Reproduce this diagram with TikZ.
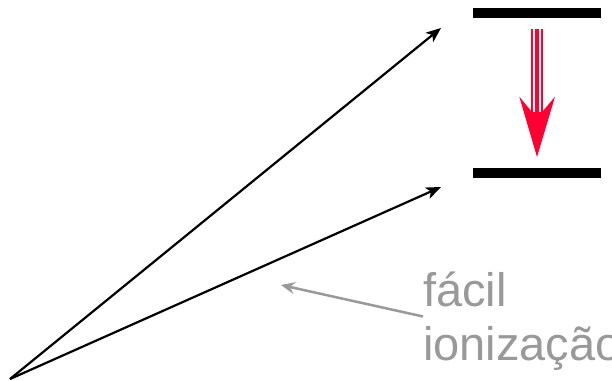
\documentclass[tikz,border=0pt]{standalone}
\usepackage{fontspec}
\setmainfont{Liberation Sans}
\usetikzlibrary{arrows.meta}
\definecolor{ared}{HTML}{FF0033}
\definecolor{agray}{HTML}{999999}
\tikzset{
  blackarrow/.style={line width=2.2pt, -{Stealth[length=15pt,width=12pt,inset=4pt]}},
  grayarrow/.style={agray, line width=2.5pt, -{Stealth[length=14pt,width=12pt,inset=5pt]}},
  level/.style={line width=10pt, black},
  label/.style={agray, font=\fontsize{47}{54}\selectfont, align=left, inner sep=0pt, anchor=base west}
}
\begin{document}
\begin{tikzpicture}[x=1pt,y=-1pt]
\useasboundingbox (0,0) rectangle (612,380);
\clip (0,0) rectangle (612,380);
% levels
\coordinate (t1) at (473,13);
\coordinate (t2) at (601,13);
\coordinate (b1) at (473,172.5);
\coordinate (b2) at (601,172.5);
\draw[level] (t1) -- (t2);
\draw[level] (b1) -- (b2);
% black arrows
\coordinate (o) at (10,379);
\coordinate (up) at (441,28);
\coordinate (low) at (441,187);
\draw[blackarrow] (o) -- (up);
\draw[blackarrow] (o) -- (low);
% red arrow
\fill[ared] (531,29) rectangle (543,120);
\fill[white] (533.2,29) rectangle (534.5,112);
\fill[white] (539.2,29) rectangle (540.5,112);
\fill[ared] (519.3,96.7) -- (537,118) -- (555,96.7) -- (537,157) -- cycle;
% label
\node[label] (lab) at (423,360) {fácil\\ionização};
\coordinate (gs) at (423,316.5);
\coordinate (ge) at (281,285);
\draw[grayarrow] (gs) -- (ge);
\end{tikzpicture}
\end{document}
